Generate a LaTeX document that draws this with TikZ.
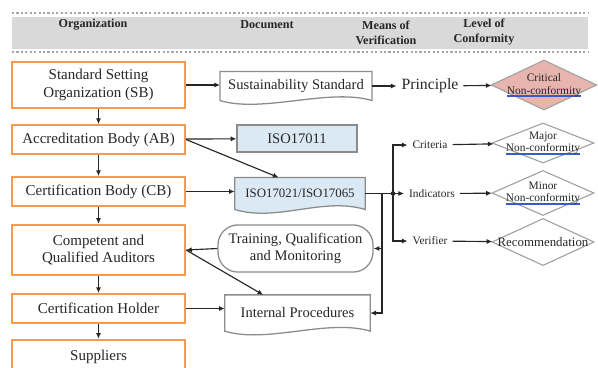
\documentclass[tikz,border=0pt]{standalone}
\usepackage{fontspec}
\setmainfont{Liberation Serif}
\usetikzlibrary{arrows.meta,shapes.geometric,backgrounds}
\definecolor{certOrange}{HTML}{F59B50}
\definecolor{certBand}{HTML}{D9D9D9}
\definecolor{certDots}{HTML}{A6A6A6}
\definecolor{certGrey}{HTML}{8C8C8C}
\definecolor{certBlue}{HTML}{DAE9F4}
\definecolor{certPink}{HTML}{E8B4AE}
\definecolor{certLink}{HTML}{3A5BC7}
\definecolor{certInk}{HTML}{262626}

% wavy-bottom document outline behind a node
\newcommand\doclike[2]{%
 \begin{scope}[on background layer]
 \draw[docline,fill=#1] (#2.south west) -- (#2.north west) -- (#2.north east) -- (#2.south east)
 .. controls +(-30pt,9pt) and +(30pt,-9pt) .. (#2.south west) -- cycle;
 \end{scope}}
\newcommand\ncmark[1]{\setbox0\hbox{#1}\leavevmode\rlap{\color{certLink}\rule[-1.8pt]{\wd0}{0.9pt}}\box0}

\begin{document}
\begin{tikzpicture}[x=0.7pt,y=-0.7pt,
 org/.style={draw=certOrange,line width=1.6pt,fill=white,text=certInk,font=\fontsize{10.5}{12.5}\selectfont,align=center,minimum width=121pt,minimum height=20pt},
 doc/.style={text=certInk,font=\fontsize{10.2}{12.5}\selectfont,align=center},
 docline/.style={draw=certGrey,line width=0.9pt},
 level/.style={diamond,draw=certGrey!80,line width=0.8pt,fill=white,inner sep=0pt},
 lvltext/.style={text=certInk,font=\fontsize{8}{9}\selectfont,align=center,inner sep=0pt},
 means/.style={text=certInk,font=\fontsize{8}{10}\selectfont},
 head/.style={font=\bfseries\fontsize{8.5}{10.5}\selectfont,align=center,text=certInk},
 dotrow/.style={draw=certDots,line width=1.8pt,dash pattern=on 1.5pt off 1.6pt},
 edge/.style={-{Latex[length=4pt,width=3.6pt]},line width=0.8pt,draw=certInk}
]
\useasboundingbox (0,0) rectangle (598,367);

% header
\draw[dotrow] (12,13) -- (588,13);
\fill[certBand] (12,17) rectangle (588,49);
\draw[dotrow] (12,52) -- (588,52);
\node[head] (hOrg) at (93,25) {Organization};
\node[head] (hDoc) at (267,25) {Document};
\node[head] (hMov) at (386,32.5) {Means of\\Verification};
\node[head] (hLoc) at (484,32.5) {Level of\\Conformity};

% organizations
\node[org,minimum height=32pt] (ssb) at (98.5,85) {Standard Setting\\Organization (SB)};
\node[org] (ab) at (98.5,139.5) {Accreditation Body (AB)};
\node[org] (cb) at (98.5,191.5) {Certification Body (CB)};
\node[org,minimum height=35pt] (aud) at (98.5,250) {Competent and\\Qualified Auditors};
\node[org] (ch) at (98.5,308.5) {Certification Holder};
\node[org,minimum height=24pt] (sup) at (98.5,357) {Suppliers};
\draw[edge] (ssb) -- (ab);
\draw[edge] (ab) -- (cb);
\draw[edge] (cb) -- (aud);
\draw[edge] (aud) -- (ch);
\draw[edge] (ch) -- (sup);

% documents
\node[doc,minimum width=106pt,minimum height=20pt] (ss) at (296,86) {Sustainability Standard}; \doclike{white}{ss}
\node[doc,draw=certGrey,line width=0.9pt,fill=certBlue,minimum width=84pt,minimum height=19pt] (iso11) at (297,138.5) {ISO17011};
\node[doc,font=\fontsize{9}{11}\selectfont,minimum width=91pt,minimum height=22pt] (iso21) at (300,193.5) {ISO17021/ISO17065}; \doclike{certBlue}{iso21}
\node[doc,draw=certGrey,line width=0.9pt,rounded corners=14pt,minimum width=108.5pt,minimum height=33pt] (trn) at (295.5,248.5) {Training, Qualification\\and Monitoring};
\node[doc,minimum width=101.5pt,minimum height=25pt] (intp) at (297.5,313) {Internal Procedures}; \doclike{white}{intp}
\draw[edge] (ssb.east) -- (ssb.east -| ss.west);
\draw[edge] (ab) -- (iso11);
\draw[edge] (ab.east) -- ([xshift=-15pt]iso21.north);
\draw[edge] (cb.east) -- (cb.east -| iso21.west);
\draw[edge] (trn.west) -- (aud.east);
\draw[edge] (aud.east) -- ([xshift=-24pt]intp.north);
\draw[edge] (ch.east) -- (ch.east -| intp.west);

% means of verification
\node[doc,font=\fontsize{11}{13}\selectfont] (prn) at (430,86) {Principle};
\node[means] (crt) at (430,145) {Criteria};
\node[means] (ind) at (432,193.5) {Indicators};
\node[means] (ver) at (430,241) {Verifier};
\coordinate (jr) at (393,193.5);
\coordinate (jd) at (382,193.5);
\draw[edge] (ss) -- (prn);
\draw[edge] (iso21.east) -- (ind.west);
\draw[edge] (jr) |- (crt.west);
\draw[edge] (jr) |- (ver.west);
\fill[certInk] (jr) circle (1.6pt);
\draw[edge] (jd) |- (trn.east);
\draw[edge] (jd) |- (intp.east);

% levels of conformity
\node[level,fill=certPink,minimum width=74pt,minimum height=35pt,label={[lvltext]center:{Critical\\\ncmark{Non-conformity}}}] (crit) at (544,85) {};
\node[level,minimum width=71.5pt,minimum height=28pt,label={[lvltext]center:{Major\\\ncmark{Non-conformity}}}] (major) at (543,143) {};
\node[level,minimum width=71.5pt,minimum height=31.5pt,label={[lvltext]center:{Minor\\\ncmark{Non-conformity}}}] (minor) at (543,193) {};
\node[level,minimum width=71.5pt,minimum height=33pt,label={[lvltext,font=\fontsize{9}{10}\selectfont]center:{Recommendation}}] (rec) at (543,242) {};
\draw[edge] (prn) -- (crit);
\draw[edge] (crt) -- (major);
\draw[edge] (ind) -- (minor);
\draw[edge] (ver) -- (rec);
\end{tikzpicture}
\end{document}
